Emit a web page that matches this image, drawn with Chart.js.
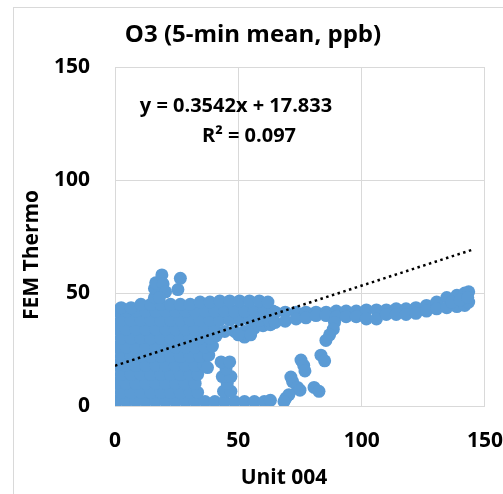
<!DOCTYPE html>
<html>
<head>
<meta charset="utf-8">
<script src="https://cdn.jsdelivr.net/npm/chart.js@4.4.0/dist/chart.umd.js"></script>
<style>
  html, body { margin: 0; padding: 0; background: #fff; }
  #wrap { position: relative; width: 503px; height: 494px; overflow: hidden; }
  #frame { position: absolute; left: 13px; top: 7px; width: 600px; height: 600px; border: 1px solid #d9d9d9; }
  canvas { position: absolute; left: 0; top: 0; }
</style>
</head>
<body>
<div id="wrap"><div id="frame"></div><canvas id="chart" width="503" height="494"></canvas></div>
<script>
// axis ticks and labels
const xTicks = [0, 50, 100, 150];
const yTicks = [0, 50, 100, 150];
const titleText = 'O3 (5-min mean, ppb)';
const xTitle = 'Unit 004';
const yTitle = 'FEM Thermo';
const eqLine = 'y = 0.3542x + 17.833';
const r2Line = 'R\u00B2 = 0.097';

// linear trendline end points (from the fitted equation)
const trendX = [0, 145];
const trendY = [17.833, 69.19];

// dense cloud at low Unit 004 readings [x, y]
const corePoints = [
  [0.5,2],[4.5,2],[8.5,2],[12.5,2],[16.5,2],[20.5,2],[24.5,2],[28.5,2],[32.5,2],[36.5,2],[40.5,2],[44.5,2],[48.5,2],[52.5,2],[56.5,2],[60.5,2],[63,2.5],
  [2.5,6],[6.5,6],[10.5,6],[14.5,6],[18.5,6],[22.5,6],[26.5,6],[30.5,6],[33.5,6],
  [0.5,10],[4.5,10],[8.5,10],[12.5,10],[16.5,10],[20.5,10],[24.5,10],[28.5,10],[32.5,10],
  [2.5,14],[6.5,14],[10.5,14],[14.5,14],[18.5,14],[22.5,14],[26.5,14],[30.5,14],[33.5,14],
  [0.5,18],[4.5,18],[8.5,18],[12.5,18],[16.5,18],[20.5,18],[24.5,18],[28.5,18],[32.5,18],[36,18.5],
  [2.5,22],[6.5,22],[10.5,22],[14.5,22],[18.5,22],[22.5,22],[26.5,22],[30.5,22],[34.5,22],[38,22.5],
  [0.5,26],[4.5,26],[8.5,26],[12.5,26],[16.5,26],[20.5,26],[24.5,26],[28.5,26],[32.5,26],[36.5,26],[39.5,26.5],
  [2.5,30],[6.5,30],[10.5,30],[14.5,30],[18.5,30],[22.5,30],[26.5,30],[30.5,30],[34.5,30],[38.5,30],[41,31],
  [0.5,34],[4.5,34],[8.5,34],[12.5,34],[16.5,34],[20.5,34],[24.5,34],[28.5,34],[32.5,34],[36.5,34],[40.5,34],[44.5,33],[48.5,33],[52.5,33],[56.5,34.5],[60,35.5],[63,36],
  [2.5,38],[6.5,38],[10.5,38],[14.5,38],[18.5,38],[22.5,38],[26.5,38],[30.5,38],[34.5,38],[38.5,38],[42.5,38],[46.5,38],[50.5,38],[54.5,38],[58.5,38],[62.5,38],
  [0.5,42],[4.5,42],[8.5,42],[12.5,42],[16.5,42],[20.5,42],[24.5,42],[28.5,42],[32.5,42],[36.5,42],[40.5,42],[44.5,42],[48.5,42],[52.5,42],[56.5,42],[60.5,42],[64,42],
  [2.5,43.5],[6.5,43.5],[10.5,45],[14.5,45],[18.5,45],[22.5,45],[26.5,45],[30.5,45],[34.5,46],[38.5,46],[42.5,46.5],[46.5,46.5],[50.5,46.5],[54.5,46.5],[58.5,46.5],[62,46],
  [52.5,30.5],[50,31.5],[55,31.5]
];

// small group below the cloud edge
const clusterPoints = [
  [37.5,17],[44,6.5],[47,6.5],[45.5,10],[43.5,13],[47,13],[45,16.5],[43,19.5],[46.5,19.5]
];

// spike above the cloud
const spikePoints = [
  [16,48],[16,52],[16.5,54.5],[19,58],[19.5,54],[20.5,50.5],[18,48],[25.5,51.5],[26.5,56.5]
];

// long band at ~40-50 ppb
const bandPoints = [
  [65,41.5],[69,41.5],[73.4,41.5],[77.4,41.5],[81.5,41.5],[85.6,41.5],[89.7,42],[93.7,42],[97.8,42],[101.9,42.5],[106,42.5],[110,42.5],[114,43],[118,43],[122,43.5],[126.3,44.5],[130.4,46],[134.5,48],[138.6,49],[141.8,50],[143.4,50.5],
  [65,37],[69,37.5],[73.4,38.5],[77.4,39],[81.5,40],[85.6,40],[89.7,39.5],[93.7,39.5],[97.8,39.5],[101.9,38.5],[106,38.5],[110,40.5],[114,40.5],[118,40.5],[122,41],[126.3,42],[130.4,43],[134.5,43.5],[138.6,44],[141.8,44.5],[143.4,46],
  [136.5,46],[140,47],[143,48]
];

// column dropping from the band and scattered points
const strayPoints = [
  [89,37],[88.5,34],[87,31.5],[85.5,29],
  [83.5,22.5],[85,20],[75.4,20.3],[76.5,18],[77,15.5],[71.3,12.8],[72,10.8],[74,8.2],[75,7],
  [69.3,3.5],[70.5,5],[68.5,2],[80.7,8.2],[82.7,6.5]
];

const pointColor = '#5B9BD5';
const gridColor = '#d9d9d9';
const fontFamily = '"Open Sans", "Liberation Sans", sans-serif';

function toXY(list) {
  return list.map(p => ({ x: p[0], y: p[1] }));
}

const allPoints = toXY(corePoints.concat(clusterPoints, spikePoints, bandPoints, strayPoints));
const trendData = trendX.map((x, i) => ({ x: x, y: trendY[i] }));

// texts that Chart.js cannot place exactly where Excel put them
const textPlugin = {
  id: 'chartTexts',
  afterDraw(chart) {
    const ctx = chart.ctx;
    const area = chart.chartArea;
    ctx.save();
    ctx.fillStyle = '#000';
    ctx.textAlign = 'center';
    ctx.textBaseline = 'middle';

    ctx.font = 'bold 24px ' + fontFamily;
    ctx.fillText(titleText, 253, 35);

    ctx.font = 'bold 20px ' + fontFamily;
    ctx.fillText(eqLine, area.left + 121, 106);
    ctx.fillText(r2Line, area.left + 134, 136);

    ctx.font = 'bold 21px ' + fontFamily;
    ctx.fillText(xTitle, 284, 478);

    ctx.translate(32, 255);
    ctx.rotate(-Math.PI / 2);
    ctx.fillText(yTitle, 0, 0);
    ctx.restore();
  }
};

const ctx = document.getElementById('chart').getContext('2d');
new Chart(ctx, {
  type: 'scatter',
  data: {
    datasets: [
      {
        label: 'Linear trend',
        data: trendData,
        showLine: true,
        borderColor: '#000',
        borderWidth: 2.5,
        borderDash: [2.5, 3.5],
        pointRadius: 0,
        fill: false
      },
      {
        label: 'O3',
        data: allPoints,
        backgroundColor: pointColor,
        borderColor: pointColor,
        pointBorderWidth: 0,
        pointRadius: 6.5,
        pointHoverRadius: 6.5
      }
    ]
  },
  options: {
    responsive: false,
    animation: false,
    layout: { padding: { top: 67, right: 0, left: 0, bottom: 0 } },
    plugins: {
      legend: { display: false },
      tooltip: { enabled: false },
      title: { display: false }
    },
    scales: {
      x: {
        type: 'linear',
        min: 0,
        max: 150,
        afterBuildTicks: scale => { scale.ticks = xTicks.map(v => ({ value: v })); },
        afterFit: scale => { scale.height = 88; },
        grid: { color: gridColor, drawTicks: true, tickLength: 22, tickColor: 'rgba(0,0,0,0)' },
        border: { color: gridColor },
        ticks: {
          padding: 0,
          color: '#000',
          font: { family: fontFamily, size: 21, weight: 'bold' }
        }
      },
      y: {
        type: 'linear',
        min: 0,
        max: 150,
        afterBuildTicks: scale => { scale.ticks = yTicks.map(v => ({ value: v })); },
        afterFit: scale => { scale.width = 115; },
        grid: { color: gridColor, drawTicks: true, tickLength: 25, tickColor: 'rgba(0,0,0,0)' },
        border: { color: gridColor },
        ticks: {
          padding: 0,
          color: '#000',
          font: { family: fontFamily, size: 21, weight: 'bold' }
        }
      }
    }
  },
  plugins: [textPlugin]
});
</script>
</body>
</html>
